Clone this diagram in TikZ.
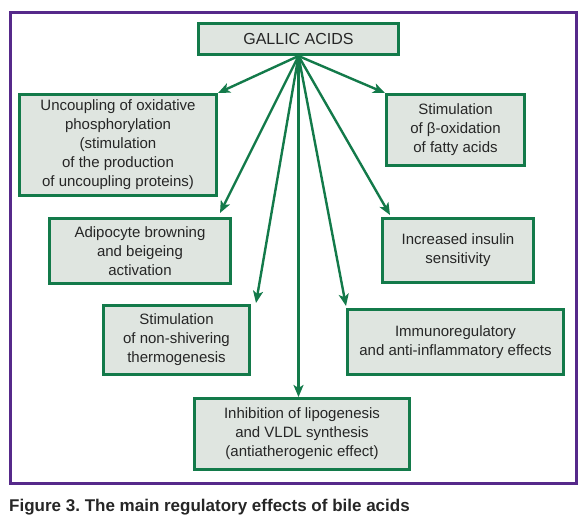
\documentclass[tikz,border=0pt]{standalone}
\usepackage{fontspec}
\setmainfont{Liberation Sans}
\usetikzlibrary{arrows.meta}
\frenchspacing
\definecolor{dgreen}{HTML}{137A4A}
\definecolor{boxfill}{HTML}{DFE5E0}
\definecolor{frame}{HTML}{56298A}
\definecolor{txt}{HTML}{262626}
\tikzset{
  effect/.style={draw=dgreen, line width=3pt, fill=boxfill, align=center,
    text=txt, inner sep=0pt, font=\fontsize{15}{19}\selectfont},
  link/.style={draw=dgreen, line width=2.4pt,
    -{Stealth[length=12pt,width=10pt,inset=3pt]}}
}
\begin{document}
\begin{tikzpicture}[x=1pt,y=-1pt]
\useasboundingbox (0,0) rectangle (586,527);
\draw[frame, line width=3pt] (10,13) rectangle (576,483);

\node[effect, minimum width=200pt, minimum height=31pt, font=\fontsize{16}{19}\selectfont] (top) at (298.5,39) {GALLIC ACIDS};
\node[effect, minimum width=197pt, minimum height=101pt] (unc) at (118,145)
  {Uncoupling of oxidative\\phosphorylation\\(stimulation\\of the production\\of uncoupling proteins)};
\node[effect, minimum width=138pt, minimum height=71pt] (beta) at (455.5,130)
  {Stimulation\\of β-oxidation\\of fatty acids};
\node[effect, minimum width=181pt, minimum height=65pt] (adi) at (140,251)
  {Adipocyte browning\\and beigeing\\activation};
\node[effect, minimum width=151pt, minimum height=64pt] (ins) at (458,250.5)
  {Increased insulin\\sensitivity};
\node[effect, minimum width=146pt, minimum height=69pt] (ns) at (176.5,340)
  {Stimulation\\of non-shivering\\thermogenesis};
\node[effect, minimum width=216pt, minimum height=65pt] (imm) at (455.5,342)
  {Immunoregulatory\\and anti-inflammatory effects};
\node[effect, minimum width=215pt, minimum height=71pt] (inh) at (302,434)
  {Inhibition of lipogenesis\\and VLDL synthesis\\(antiatherogenic effect)};

\draw[link] (top.south) -- (unc.north east);
\draw[link] (top.south) -- (beta.north west);
\draw[link] (top.south) -- ([xshift=-12pt,yshift=4pt]adi.north east);
\draw[link] (top.south) -- ([xshift=5pt,yshift=1pt]ns.north east);
\draw[link] (top.south) -- (inh.north -| top.south);
\draw[link] (top.south) -- ([xshift=9pt,yshift=2pt]ins.north west);
\draw[link] (top.south) -- ([yshift=2pt]imm.north west);

\node[anchor=base west, inner sep=0pt, text=txt, font=\fontsize{17}{20}\selectfont\bfseries] (cap) at (9,511)
  {Figure 3. The main regulatory effects of bile acids};
\end{tikzpicture}
\end{document}
